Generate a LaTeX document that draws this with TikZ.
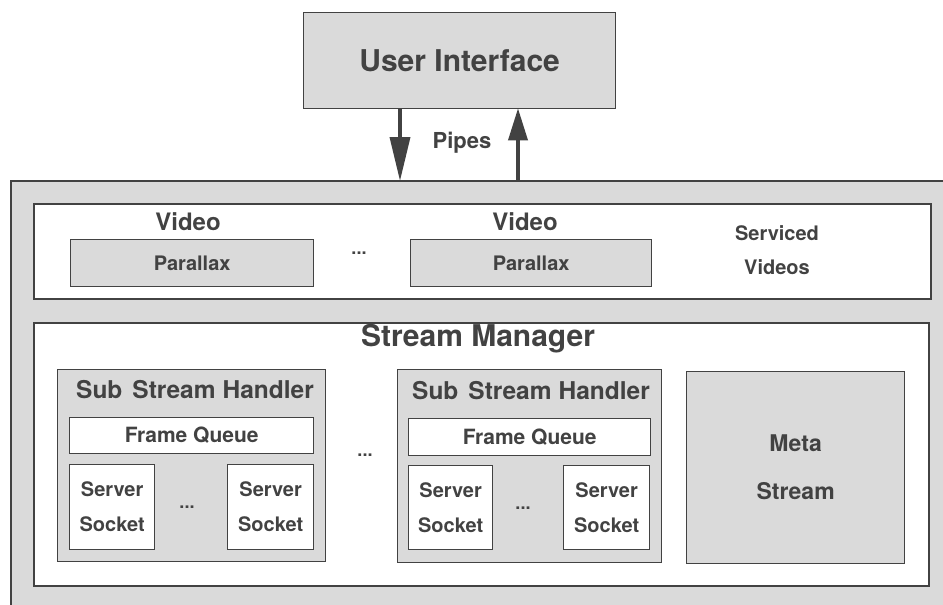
\documentclass[tikz,border=0pt]{standalone}
\usepackage{fontspec}
\setmainfont{TeX Gyre Heros}
\usetikzlibrary{arrows.meta}
\definecolor{stipple}{RGB}{218,218,218}
\definecolor{ink}{RGB}{66,66,66}
\newcommand{\fs}[2]{\fontsize{#1}{#2}\selectfont\bfseries}

\begin{document}
\begin{tikzpicture}[x=1pt,y=-1pt,
  box/.style={draw=ink, line width=1.3pt, anchor=north west, inner sep=0pt, text=ink},
  shaded/.style={box, fill=stipple},
  plain/.style={box, fill=white},
  lbl/.style={text=ink, inner sep=0pt},
  pipe/.style={draw=ink, line width=3.6pt}]
\useasboundingbox (0,0) rectangle (943,605);
\clip (0,0) rectangle (943,605);
\fill[white] (0,0) rectangle (943,605);

% user interface and the pipes
\node[shaded, minimum width=312pt, minimum height=96pt] (ui) at (303,12) {};
\node[lbl, font=\fs{30}{32}] (uit) at (ui.center) {User Interface};

% main process
\node[shaded, line width=2pt, minimum width=960pt, minimum height=460pt] (proc) at (10,180) {};

\coordinate (dn) at (400,0);
\coordinate (up) at (518,0);
\draw[pipe, -{Triangle[length=44pt, width=20pt]}, shorten >=-1pt] (ui.south -| dn) -- (proc.north -| dn);
\draw[pipe, -{Triangle[length=32pt, width=19pt]}, shorten >=-1pt] (proc.north -| up) -- (ui.south -| up);
\node[lbl, font=\fs{22}{24}] (pipes) at (462,143) {Pipes};

% serviced videos
\node[plain, line width=1.6pt, minimum width=897pt, minimum height=95pt] (videos) at (33,203) {};
\node[lbl, font=\fs{24}{26}] (v1) at (188,222) {Video};
\node[lbl, font=\fs{24}{26}] (v2) at (525,222) {Video};
\node[shaded, minimum width=243pt, minimum height=47pt, font=\fs{20}{22}] (par1) at (70,239) {Parallax};
\node[shaded, minimum width=241pt, minimum height=47pt, font=\fs{20}{22}] (par2) at (410,239) {Parallax};
\node[lbl, font=\fs{18}{20}] (vdots) at (359,253) {...};
\node[lbl, font=\fs{20}{34}, align=center] (serv) at (777,250) {Serviced\\Videos};

% stream manager
\node[plain, line width=1.6pt, minimum width=895pt, minimum height=263pt] (sm) at (33,322) {};
\node[lbl, font=\fs{30}{32}] (smt) at (478,339) {Stream Manager};

% first sub stream handler
\node[shaded, minimum width=268pt, minimum height=192pt] (ssh1) at (57,369) {};
\node[lbl, font=\fs{24.5}{26}] (ssh1t) at (195,390) {Sub\hspace{10pt}Stream\hspace{7pt}Handler};
\node[plain, minimum width=244pt, minimum height=36pt, font=\fs{21}{23}] (fq1) at (69,417) {Frame Queue};
\node[plain, minimum width=85pt, minimum height=85pt, font=\fs{20}{35}, align=center] (sa1) at (69,464) {Server\\Socket};
\node[plain, minimum width=86pt, minimum height=85pt, font=\fs{20}{35}, align=center] (sb1) at (227,464) {Server\\Socket};
\node[lbl, font=\fs{18}{20}] (sd1) at (187,507) {...};

\node[lbl, font=\fs{18}{20}] (mdots) at (365,455) {...};

% second sub stream handler
\node[shaded, minimum width=264pt, minimum height=193pt] (ssh2) at (397,369) {};
\node[lbl, font=\fs{24.5}{26}] (ssh2t) at (531,391) {Sub\hspace{10pt}Stream\hspace{7pt}Handler};
\node[plain, minimum width=242pt, minimum height=37pt, font=\fs{21}{23}] (fq2) at (408,418) {Frame Queue};
\node[plain, minimum width=84pt, minimum height=84pt, font=\fs{20}{35}, align=center] (sa2) at (408,465) {Server\\Socket};
\node[plain, minimum width=86pt, minimum height=84pt, font=\fs{20}{35}, align=center] (sb2) at (563,465) {Server\\Socket};
\node[lbl, font=\fs{18}{20}] (sd2) at (523,508) {...};

% meta stream
\node[shaded, minimum width=218pt, minimum height=192pt, font=\fs{23}{48}, align=center] (meta) at (686,371) {Meta\\Stream};
\end{tikzpicture}
\end{document}
